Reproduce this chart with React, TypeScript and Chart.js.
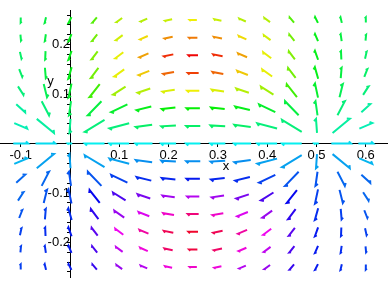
import React, { useEffect, useRef } from "react";
import { Chart, registerables } from "chart.js";

Chart.register(...registerables);

// grid of sample points
const xValues = [-0.1, -0.05, 0, 0.05, 0.1, 0.15, 0.2, 0.25, 0.3, 0.35, 0.4, 0.45, 0.5, 0.55, 0.6];
const yValues = [0.25, 0.2143, 0.1786, 0.1429, 0.1071, 0.0714, 0.0357, 0, -0.0357, -0.0714, -0.1071, -0.1429, -0.1786, -0.2143, -0.25];

// horizontal component of the field at each grid point (rows top -> bottom)
const fieldU = [
  [-0.04, -0.74, -1.6, -2.47, -3.18, -3.66, -3.92, -4.0, -3.92, -3.66, -3.18, -2.47, -1.6, -0.74, -0.04],
  [0.31, -0.55, -1.69, -2.84, -3.73, -4.27, -4.54, -4.61, -4.54, -4.27, -3.73, -2.84, -1.69, -0.55, 0.31],
  [0.86, -0.19, -1.77, -3.37, -4.47, -5.02, -5.24, -5.3, -5.24, -5.02, -4.47, -3.37, -1.77, -0.19, 0.86],
  [1.71, 0.48, -1.85, -4.2, -5.51, -5.95, -6.03, -6.03, -6.03, -5.95, -5.51, -4.2, -1.85, 0.48, 1.71],
  [3.04, 1.83, -1.91, -5.68, -6.99, -7.03, -6.84, -6.76, -6.84, -7.03, -6.99, -5.68, -1.91, 1.83, 3.04],
  [4.98, 4.79, -1.96, -8.75, -9.05, -8.18, -7.59, -7.4, -7.59, -8.18, -9.05, -8.75, -1.96, 4.79, 4.98],
  [7.21, 11.43, -1.99, -15.45, -11.35, -9.14, -8.13, -7.84, -8.13, -9.14, -11.35, -15.45, -1.99, 11.43, 7.21],
  [8.33, 18.18, -2.5, -22.22, -12.5, -9.52, -8.33, -8.0, -8.33, -9.52, -12.5, -22.22, -2.5, 18.18, 8.33],
  [7.21, 11.43, -1.99, -15.45, -11.35, -9.14, -8.13, -7.84, -8.13, -9.14, -11.35, -15.45, -1.99, 11.43, 7.21],
  [4.98, 4.79, -1.96, -8.75, -9.05, -8.18, -7.59, -7.4, -7.59, -8.18, -9.05, -8.75, -1.96, 4.79, 4.98],
  [3.04, 1.83, -1.91, -5.68, -6.99, -7.03, -6.84, -6.76, -6.84, -7.03, -6.99, -5.68, -1.91, 1.83, 3.04],
  [1.71, 0.48, -1.85, -4.2, -5.51, -5.95, -6.03, -6.03, -6.03, -5.95, -5.51, -4.2, -1.85, 0.48, 1.71],
  [0.86, -0.19, -1.77, -3.37, -4.47, -5.02, -5.24, -5.3, -5.24, -5.02, -4.47, -3.37, -1.77, -0.19, 0.86],
  [0.31, -0.55, -1.69, -2.84, -3.73, -4.27, -4.54, -4.61, -4.54, -4.27, -3.73, -2.84, -1.69, -0.55, 0.31],
  [-0.04, -0.74, -1.6, -2.47, -3.18, -3.66, -3.92, -4.0, -3.92, -3.66, -3.18, -2.47, -1.6, -0.74, -0.04],
];

// vertical component of the field at each grid point (rows top -> bottom)
const fieldV = [
  [-2.86, -3.16, -3.2, -2.9, -2.32, -1.59, -0.8, 0, 0.8, 1.59, 2.32, 2.9, 3.2, 3.16, 2.86],
  [-3.3, -3.81, -3.94, -3.56, -2.79, -1.86, -0.92, 0, 0.92, 1.86, 2.79, 3.56, 3.94, 3.81, 3.3],
  [-3.81, -4.66, -4.97, -4.43, -3.33, -2.13, -1.02, 0, 1.02, 2.13, 3.33, 4.43, 4.97, 4.66, 3.81],
  [-4.32, -5.79, -6.47, -5.6, -3.91, -2.33, -1.07, 0, 1.07, 2.33, 3.91, 5.6, 6.47, 5.79, 4.32],
  [-4.7, -7.32, -8.92, -7.16, -4.36, -2.35, -1.03, 0, 1.03, 2.35, 4.36, 7.16, 8.92, 7.32, 4.7],
  [-4.53, -9.16, -13.72, -9.05, -4.3, -2.03, -0.83, 0, 0.83, 2.03, 4.3, 9.05, 13.72, 9.16, 4.53],
  [-3.07, -9.34, -27.84, -9.28, -2.94, -1.21, -0.47, 0, 0.47, 1.21, 2.94, 9.28, 27.84, 9.34, 3.07],
  [0, 0, 0, 0, 0, 0, 0, 0, 0, 0, 0, 0, 0, 0, 0],
  [3.07, 9.34, 27.84, 9.28, 2.94, 1.21, 0.47, 0, -0.47, -1.21, -2.94, -9.28, -27.84, -9.34, -3.07],
  [4.53, 9.16, 13.72, 9.05, 4.3, 2.03, 0.83, 0, -0.83, -2.03, -4.3, -9.05, -13.72, -9.16, -4.53],
  [4.7, 7.32, 8.92, 7.16, 4.36, 2.35, 1.03, 0, -1.03, -2.35, -4.36, -7.16, -8.92, -7.32, -4.7],
  [4.32, 5.79, 6.47, 5.6, 3.91, 2.33, 1.07, 0, -1.07, -2.33, -3.91, -5.6, -6.47, -5.79, -4.32],
  [3.81, 4.66, 4.97, 4.43, 3.33, 2.13, 1.02, 0, -1.02, -2.13, -3.33, -4.43, -4.97, -4.66, -3.81],
  [3.3, 3.81, 3.94, 3.56, 2.79, 1.86, 0.92, 0, -0.92, -1.86, -2.79, -3.56, -3.94, -3.81, -3.3],
  [2.86, 3.16, 3.2, 2.9, 2.32, 1.59, 0.8, 0, -0.8, -1.59, -2.32, -2.9, -3.2, -3.16, -2.86],
];

// hue (degrees) of each arrow (rows top -> bottom)
const arrowHue = [
  [140, 135, 125, 100, 75, 75, 70, 60, 70, 75, 75, 100, 125, 135, 140],
  [140, 135, 125, 92, 68, 55, 35, 30, 35, 55, 68, 92, 125, 135, 140],
  [145, 135, 125, 88, 62, 40, 10, 0, 10, 40, 62, 88, 125, 135, 145],
  [145, 135, 125, 92, 62, 50, 25, 15, 25, 50, 62, 92, 125, 135, 145],
  [150, 140, 130, 105, 80, 75, 65, 60, 65, 75, 80, 105, 130, 140, 150],
  [160, 150, 140, 135, 130, 125, 120, 120, 120, 125, 130, 135, 140, 150, 160],
  [165, 160, 155, 150, 150, 145, 145, 145, 145, 145, 150, 150, 155, 160, 165],
  [185, 185, 180, 180, 180, 180, 180, 180, 180, 180, 180, 180, 180, 185, 185],
  [195, 200, 200, 200, 200, 205, 205, 205, 205, 205, 200, 200, 200, 200, 195],
  [215, 215, 220, 220, 225, 230, 232, 235, 232, 230, 225, 220, 220, 215, 215],
  [215, 220, 225, 240, 258, 270, 280, 285, 280, 270, 258, 240, 225, 220, 215],
  [220, 225, 230, 250, 278, 295, 310, 330, 310, 295, 278, 250, 230, 225, 220],
  [225, 230, 235, 262, 300, 320, 340, 350, 340, 320, 300, 262, 235, 230, 225],
  [225, 230, 235, 258, 288, 305, 335, 345, 335, 305, 288, 258, 235, 230, 225],
  [225, 230, 235, 252, 278, 285, 305, 310, 305, 285, 278, 252, 235, 230, 225],
];

const xTickValues = [-0.1, 0.1, 0.2, 0.3, 0.4, 0.5, 0.6];
const yTickValues = [
  -0.26, -0.24, -0.22, -0.2, -0.18, -0.16, -0.14, -0.12, -0.1, -0.08, -0.06, -0.04, -0.02,
  0.02, 0.04, 0.06, 0.08, 0.1, 0.12, 0.14, 0.16, 0.18, 0.2, 0.22, 0.24, 0.26,
];
const yLabelValues = [-0.2, -0.1, 0.1, 0.2];

const ARROW_SCALE = 0.00363;
const MAX_DX = 0.04;
const MAX_DY = 0.0285;
const FONT = "'Liberation Sans', Arial, sans-serif";

const arrowPlugin = {
  id: "fieldArrows",
  afterDatasetsDraw(chart: any) {
    const { ctx } = chart;
    const xs = chart.scales.x;
    const ys = chart.scales.y;
    ctx.save();
    ctx.lineWidth = 2;
    ctx.lineCap = "butt";
    ctx.lineJoin = "miter";
    yValues.forEach((yv, j) => {
      xValues.forEach((xv, i) => {
        let du = fieldU[j][i] * ARROW_SCALE;
        let dv = fieldV[j][i] * ARROW_SCALE;
        const s = Math.min(
          1,
          du !== 0 ? MAX_DX / Math.abs(du) : 1,
          dv !== 0 ? MAX_DY / Math.abs(dv) : 1
        );
        du *= s;
        dv *= s;
        const x0 = xs.getPixelForValue(xv - du / 2);
        const y0 = ys.getPixelForValue(yv - dv / 2);
        const x1 = xs.getPixelForValue(xv + du / 2);
        const y1 = ys.getPixelForValue(yv + dv / 2);
        const L = Math.hypot(x1 - x0, y1 - y0);
        if (L < 0.5) return;
        const dx = (x1 - x0) / L;
        const dy = (y1 - y0) / L;
        const bl = Math.max(1.5, Math.min(3, 0.22 * L));
        const bx = (-dx + dy) / Math.SQRT2;
        const by = (-dy - dx) / Math.SQRT2;
        ctx.strokeStyle = `hsl(${arrowHue[j][i]}, 95%, 48%)`;
        ctx.beginPath();
        ctx.moveTo(x0, y0);
        ctx.lineTo(x1, y1);
        ctx.lineTo(x1 + bx * bl, y1 + by * bl);
        ctx.stroke();
      });
    });
    // axis names
    ctx.fillStyle = "#000";
    ctx.font = `13px ${FONT}`;
    ctx.textAlign = "center";
    ctx.textBaseline = "middle";
    ctx.fillText("x", xs.getPixelForValue(0.3164), ys.getPixelForValue(-0.0459));
    ctx.fillText("y", xs.getPixelForValue(-0.0396), ys.getPixelForValue(0.1264));
    ctx.restore();
  },
};

export default function App() {
  const canvasRef = useRef<HTMLCanvasElement | null>(null);

  useEffect(() => {
    document.body.style.margin = "0";
    const canvas = canvasRef.current;
    if (!canvas) return;
    const points: { x: number; y: number }[] = [];
    yValues.forEach((yv) => xValues.forEach((xv) => points.push({ x: xv, y: yv })));
    const chart = new Chart(canvas, {
      type: "scatter",
      data: {
        datasets: [
          {
            data: points,
            pointRadius: 0,
            pointHoverRadius: 0,
            showLine: false,
          },
        ],
      },
      options: {
        animation: false,
        responsive: false,
        maintainAspectRatio: false,
        devicePixelRatio: 1,
        layout: { padding: 0 },
        events: [],
        plugins: {
          legend: { display: false },
          tooltip: { enabled: false },
          title: { display: false },
        },
        scales: {
          x: {
            type: "linear",
            min: -0.142,
            max: 0.645,
            position: { y: 0 } as any,
            afterBuildTicks: (scale: any) => {
              scale.ticks = xTickValues.map((v) => ({ value: v }));
            },
            ticks: {
              autoSkip: false,
              maxRotation: 0,
              padding: 1,
              color: "#000",
              font: { family: FONT, size: 13 },
              callback: (value: any) => String(value),
            },
            grid: {
              display: true,
              drawOnChartArea: false,
              drawTicks: true,
              tickLength: 3,
              color: "#000",
            },
            border: { display: true, color: "#000", width: 1 },
          },
          y: {
            type: "linear",
            min: -0.2706,
            max: 0.2687,
            position: { x: 0 } as any,
            afterBuildTicks: (scale: any) => {
              scale.ticks = yTickValues.map((v) => ({ value: v }));
            },
            ticks: {
              autoSkip: false,
              padding: 3,
              color: "#000",
              font: { family: FONT, size: 13 },
              callback: (value: any) => {
                const r = Math.round(value * 100) / 100;
                return yLabelValues.includes(r) ? String(r) : "";
              },
            },
            grid: {
              display: true,
              drawOnChartArea: false,
              drawTicks: true,
              tickLength: 3,
              color: "#000",
            },
            border: { display: true, color: "#000", width: 1 },
          },
        },
      },
      plugins: [arrowPlugin],
    });
    return () => chart.destroy();
  }, []);

  return (
    <canvas
      ref={canvasRef}
      width={388}
      height={288}
      style={{ display: "block", width: 388, height: 288 }}
    />
  );
}
